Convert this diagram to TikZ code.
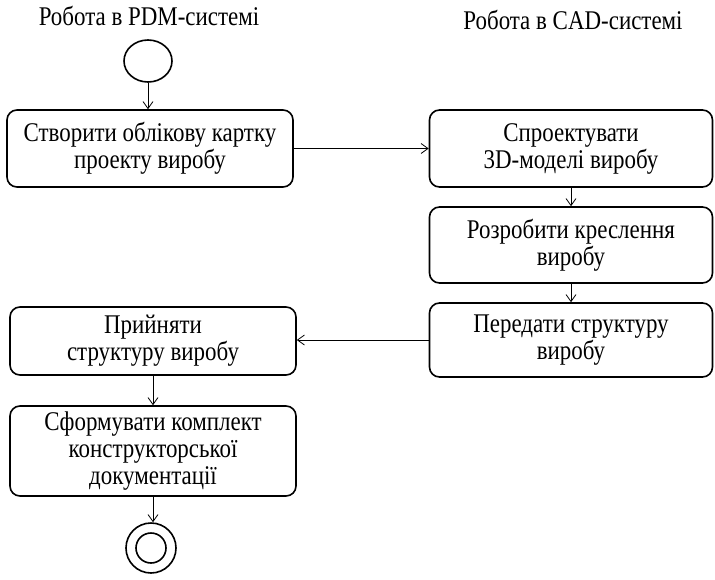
\documentclass[tikz,border=0pt]{standalone}
\usepackage{fontspec}
\setmainfont[FakeStretch=0.85]{Liberation Serif}
\usepackage{tikz}
\usetikzlibrary{%
	arrows.meta,%
	shapes.geometric%
}

\tikzset{
	act/.style={draw,line width=1.6pt,rounded corners=10pt,align=center,
		minimum width=286pt,font=\fontsize{27}{27}\selectfont},
	flow/.style={-{Straight Barb[length=7pt,width=10pt]},line width=0.8pt},
	ttl/.style={anchor=base,font=\fontsize{27}{27}\selectfont}
}

\begin{document}
\begin{tikzpicture}[x=1pt,y=-1pt]
\useasboundingbox (0,0) rectangle (715,579);

\node [ttl] (pdm) at (149,25) {Робота в PDM-системі};
\node [ttl] (cad) at (573,29) {Робота в CAD-системі};

\node [draw,ellipse,line width=1.6pt,minimum width=48pt,minimum height=42pt,inner sep=0pt] (start) at (148,61) {};

\node [act,minimum height=77pt] (card) at (150,148.5) {Створити облікову картку\\проекту виробу};
\node [act,minimum width=283pt,minimum height=77pt] (model) at (571,148.5) {Спроектувати\\3D-моделі виробу};
\node [act,minimum width=283pt,minimum height=76pt] (drawing) at (571,245) {Розробити креслення\\виробу};
\node [act,minimum width=283pt,minimum height=74pt] (send) at (571,340) {Передати структуру\\виробу};
\node [act,minimum height=68pt] (accept) at (153,341) {Прийняти\\структуру виробу};
\node [act,minimum height=90pt] (docs) at (153,451) {Сформувати комплект\\конструкторської\\документації};

\node [draw,circle,line width=1.6pt,minimum size=50pt,inner sep=0pt] (stop) at (151,548) {};
\node [draw,circle,line width=1.6pt,minimum size=30pt,inner sep=0pt] (stopin) at (151,548) {};

\draw [flow] (start.south) -- (start.south |- card.north);
\draw [flow] (card.east) -- (model.west);
\draw [flow] (model.south) -- (drawing.north);
\draw [flow] (drawing.south) -- (send.north);
\draw [flow] (send.west) -- (send.west -| accept.east);
\draw [flow] (accept.south) -- (docs.north);
\draw [flow] (docs.south) -- (docs.south |- stop.north);

\end{tikzpicture}
\end{document}
